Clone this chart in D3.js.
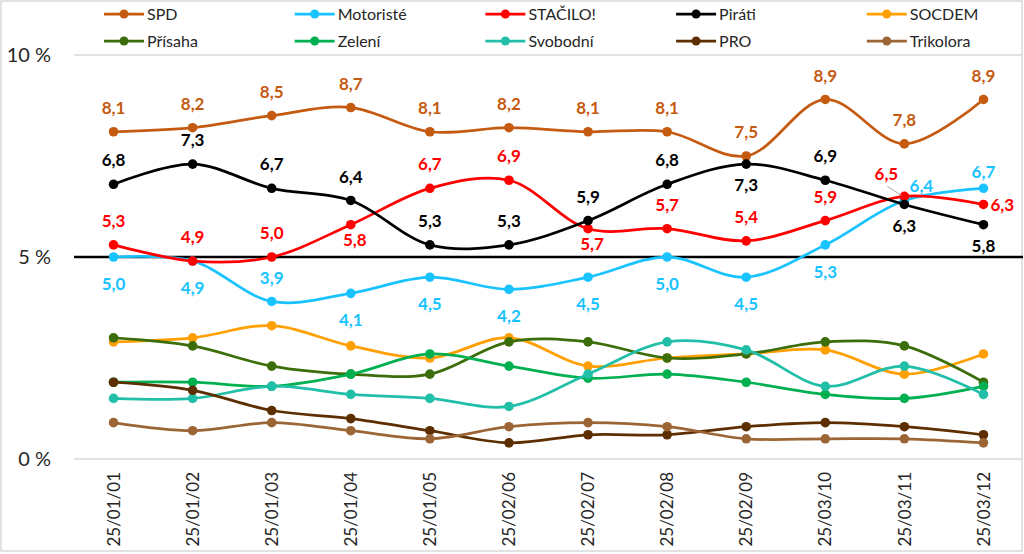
<!DOCTYPE html>
<html>
<head>
<meta charset="utf-8">
<script src="https://cdn.jsdelivr.net/npm/d3@7"></script>
<style>
  body { margin: 0; background: #fff; }
  text { font-family: Lato, "Open Sans", sans-serif; }
</style>
</head>
<body>
<div id="chart"></div>
<script>
const width = 1024,
  height = 554;

// Poll dates
const dates = ["25/01/01", "25/01/02", "25/01/03", "25/01/04", "25/01/05", "25/02/06",
  "25/02/07", "25/02/08", "25/02/09", "25/03/10", "25/03/11", "25/03/12"];

// Series values (%)
const spd        = [8.1, 8.2, 8.5, 8.7, 8.1, 8.2, 8.1, 8.1, 7.5, 8.9, 7.8, 8.9];
const motoriste  = [5.0, 4.9, 3.9, 4.1, 4.5, 4.2, 4.5, 5.0, 4.5, 5.3, 6.4, 6.7];
const stacilo    = [5.3, 4.9, 5.0, 5.8, 6.7, 6.9, 5.7, 5.7, 5.4, 5.9, 6.5, 6.3];
const pirati     = [6.8, 7.3, 6.7, 6.4, 5.3, 5.3, 5.9, 6.8, 7.3, 6.9, 6.3, 5.8];
const socdem     = [2.9, 3.0, 3.3, 2.8, 2.5, 3.0, 2.3, 2.5, 2.6, 2.7, 2.1, 2.6];
const prisaha    = [3.0, 2.8, 2.3, 2.1, 2.1, 2.9, 2.9, 2.5, 2.6, 2.9, 2.8, 1.9];
const zeleni     = [1.9, 1.9, 1.8, 2.1, 2.6, 2.3, 2.0, 2.1, 1.9, 1.6, 1.5, 1.8];
const svobodni   = [1.5, 1.5, 1.8, 1.6, 1.5, 1.3, 2.1, 2.9, 2.7, 1.8, 2.3, 1.6];
const pro        = [1.9, 1.7, 1.2, 1.0, 0.7, 0.4, 0.6, 0.6, 0.8, 0.9, 0.8, 0.6];
const trikolora  = [0.9, 0.7, 0.9, 0.7, 0.5, 0.8, 0.9, 0.8, 0.5, 0.5, 0.5, 0.4];

const yTicks = [0, 5, 10];

const series = [
  { name: "SPD", values: spd, color: "#c55a11" },
  { name: "Motoristé", values: motoriste, color: "#19c3ff" },
  { name: "STAČILO!", values: stacilo, color: "#ff0000" },
  { name: "Piráti", values: pirati, color: "#000000" },
  { name: "SOCDEM", values: socdem, color: "#ffa000" },
  { name: "Přísaha", values: prisaha, color: "#3b6e0a" },
  { name: "Zelení", values: zeleni, color: "#00b050" },
  { name: "Svobodní", values: svobodni, color: "#22bfa8" },
  { name: "PRO", values: pro, color: "#5c2e00" },
  { name: "Trikolora", values: trikolora, color: "#9c6535" }
];

// label placement per point: a = above, b = below, r = right, ar = above right, al = above left (leader)
const labelSides = {
  "SPD":       ["a","a","a","a","a","a","a","a","a","a","a","a"],
  "Motoristé": ["b","b","a","b","b","b","b","b","b","b","ar","a2"],
  "STAČILO!":  ["a","a","a","bs","a","a","bs","a","a","a","al","r"],
  "Piráti":    ["a","a","a","a","a","a","a","a","bp","a","bp","bp"]
};
const offsets = {
  a: [0, -24], a2: [0, -16], b: [0, 27], bs: [4, 15], bp: [0, 21],
  r: [7, 0], ar: [17, -15], al: [-18, -23]
};

const svg = d3.select("#chart")
  .append("svg")
  .attr("width", width)
  .attr("height", height);

// chart border
svg.append("rect")
  .attr("x", 1).attr("y", 1)
  .attr("width", 1021).attr("height", 550)
  .attr("fill", "#fff")
  .attr("stroke", "#d9d9d9")
  .attr("stroke-width", 1.5);

const x = d3.scalePoint()
  .domain(dates)
  .range([74, 1023])
  .padding(0.5);

const y = d3.scaleLinear()
  .domain([0, 10])
  .range([459, 55]);

// gridlines
svg.append("g")
  .selectAll("line")
  .data(yTicks.filter(d => d !== 5))
  .enter()
  .append("line")
  .attr("x1", 74).attr("x2", 1023)
  .attr("y1", d => y(d)).attr("y2", d => y(d))
  .attr("stroke", "#d9d9d9")
  .attr("stroke-width", 1.5);

// y labels
svg.append("g")
  .selectAll("text")
  .data(yTicks)
  .enter()
  .append("text")
  .attr("x", 51)
  .attr("y", d => y(d))
  .attr("dy", "0.36em")
  .attr("text-anchor", "end")
  .attr("font-size", 20)
  .attr("fill", "#262626")
  .text(d => d + " %");

// 5 % threshold
svg.append("line")
  .attr("x1", 74).attr("x2", 1023)
  .attr("y1", y(5)).attr("y2", y(5))
  .attr("stroke", "#000")
  .attr("stroke-width", 2.5);

// x labels
svg.append("g")
  .selectAll("text")
  .data(dates)
  .enter()
  .append("text")
  .attr("transform", d => `translate(${x(d)},472) rotate(-90)`)
  .attr("dy", "0.36em")
  .attr("text-anchor", "end")
  .attr("font-size", 17)
  .attr("fill", "#262626")
  .text(d => d);

const line = d3.line()
  .x((d, i) => x(dates[i]))
  .y(d => y(d))
  .curve(d3.curveCatmullRom.alpha(0.5));

const groups = svg.append("g")
  .selectAll("g")
  .data(series)
  .enter()
  .append("g");

groups.append("path")
  .attr("d", d => line(d.values))
  .attr("fill", "none")
  .attr("stroke", d => d.color)
  .attr("stroke-width", 2.75);

groups.selectAll("circle")
  .data(d => d.values.map((v, i) => ({ v, i, color: d.color })))
  .enter()
  .append("circle")
  .attr("cx", d => x(dates[d.i]))
  .attr("cy", d => y(d.v))
  .attr("r", 4.8)
  .attr("fill", d => d.color);

// data labels
const labelGroup = svg.append("g");
series.filter(s => labelSides[s.name]).forEach(s => {
  s.values.forEach((v, i) => {
    const side = labelSides[s.name][i];
    const [dx, dy] = offsets[side];
    const px = x(dates[i]), py = y(v);
    if (side === "al") {
      labelGroup.append("line")
        .attr("x1", px + dx + 1).attr("y1", py - 10)
        .attr("x2", px - 3).attr("y2", py - 1)
        .attr("stroke", "#a6a6a6")
        .attr("stroke-width", 1);
    }
    labelGroup.append("text")
      .attr("x", px + dx)
      .attr("y", py + dy)
      .attr("dy", "0.36em")
      .attr("text-anchor", side === "r" ? "start" : "middle")
      .attr("font-size", 17)
      .attr("font-weight", "bold")
      .attr("fill", s.color)
      .text(d3.format(".1f")(v).replace(".", ","));
  });
});

// legend
const legend = svg.append("g")
  .selectAll("g")
  .data(series)
  .enter()
  .append("g")
  .attr("transform", (d, i) => `translate(${104 + (i % 5) * 190.7},${i < 5 ? 14 : 41})`);

legend.append("line")
  .attr("x1", 0).attr("x2", 40)
  .attr("stroke", d => d.color)
  .attr("stroke-width", 2.75);

legend.append("circle")
  .attr("cx", 20)
  .attr("r", 4.5)
  .attr("fill", d => d.color);

legend.append("text")
  .attr("x", 43)
  .attr("dy", "0.36em")
  .attr("font-size", 16)
  .attr("fill", "#262626")
  .text(d => d.name);
</script>
</body>
</html>
